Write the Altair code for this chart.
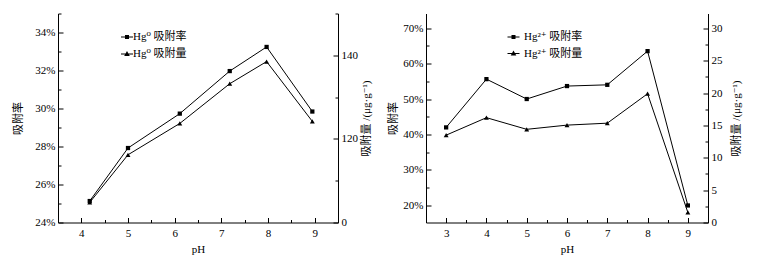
import altair as alt
import pandas as pd

SERIF = "Liberation Serif, DejaVu Serif, Noto Sans CJK SC"

# ---- Left panel (Hg0) ----
ph_hg0 = [4.18, 5.0, 6.11, 7.18, 7.97, 8.95]
rate_hg0 = [25.13, 27.92, 29.73, 31.97, 33.24, 29.84]
qty_hg0 = [104.8, 116.2, 123.7, 133.2, 138.5, 124.2]
series_hg0 = ["Hg⁰ 吸附率", "Hg⁰ 吸附量"]
x_ticks_hg0 = [4, 4.5, 5, 5.5, 6, 6.5, 7, 7.5, 8, 8.5, 9]
rate_ticks_hg0 = [24, 25, 26, 27, 28, 29, 30, 31, 32, 33, 34, 35]
qty_ticks_hg0 = [100, 110, 120, 130, 140, 150]

# ---- Right panel (Hg2+) ----
ph_hg2 = [3, 4, 5, 6, 7, 8, 9]
rate_hg2 = [42.0, 55.6, 50.0, 53.65, 54.0, 63.5, 20.0]
qty_hg2 = [13.5, 16.2, 14.4, 15.05, 15.35, 19.9, 1.55]
series_hg2 = ["Hg²⁺ 吸附率", "Hg²⁺ 吸附量"]
x_ticks_hg2 = [3, 3.5, 4, 4.5, 5, 5.5, 6, 6.5, 7, 7.5, 8, 8.5, 9]
rate_ticks_hg2 = [20, 25, 30, 35, 40, 45, 50, 55, 60, 65, 70]
qty_ticks_hg2 = [0, 2.5, 5, 7.5, 10, 12.5, 15, 17.5, 20, 22.5, 25, 27.5, 30]

# legend symbols: a thin bar (the line) through the marker, fill only
SQ = "M-3,-0.25L3,-0.25L3,0.25L-3,0.25Z M-1,-1L1,-1L1,1L-1,1Z"
TRI = "M-3,-0.25L3,-0.25L3,0.25L-3,0.25Z M0,-1.5L1.4,1L-1.4,1Z"

# inward ticks: major 5 px, minor 3 px
X_TICK = "(datum.value % 1 === 0) ? -5 : -3"


def panel(ph, rate, qty, names, xdom, xvals, y1dom, y1vals, y1lab, y1tick,
          y2dom, y2vals, y2lab, y2tick, w, h, tp1, tp2, legx, legy, loff, rowpad):
    df = pd.DataFrame({"pH": ph, "rate": rate, "qty": qty})
    leg_df = pd.DataFrame({"pH": ph + ph,
                           "series": [names[0]] * len(ph) + [names[1]] * len(ph)})
    tick_style = dict(ticks=True, tickColor="black", tickWidth=1,
                      labelOverlap=False, labelFlush=False)
    xenc = alt.X(
        "pH:Q",
        scale=alt.Scale(domain=xdom, nice=False, zero=False),
        axis=alt.Axis(values=xvals,
                      labelExpr="datum.value % 1 === 0 ? format(datum.value, 'd') : ''",
                      tickSize={"expr": X_TICK},
                      title="pH", titlePadding=3, labelPadding=9.5, **tick_style),
    )
    y1 = alt.Y(
        "rate:Q",
        scale=alt.Scale(domain=y1dom, nice=False, zero=False),
        axis=alt.Axis(orient="left", values=y1vals, labelExpr=y1lab,
                      tickSize={"expr": y1tick},
                      title="吸附率", titlePadding=tp1, labelPadding=8, **tick_style),
    )
    y2 = alt.Y(
        "qty:Q",
        scale=alt.Scale(domain=y2dom, nice=False, zero=False),
        axis=alt.Axis(orient="right", values=y2vals, labelExpr=y2lab,
                      tickSize={"expr": y2tick},
                      title="吸附量 /(μg·g⁻¹)",
                      titleAngle=270, titleBaseline="top", titlePadding=tp2,
                      labelPadding=8, **tick_style),
    )
    base = alt.Chart(df)
    la = base.mark_line(color="black", strokeWidth=1).encode(x=xenc, y=y1)
    pa = base.mark_point(shape="square", filled=True, color="black",
                         size=18, opacity=1).encode(x=xenc, y=y1)
    lb = base.mark_line(color="black", strokeWidth=1).encode(x=xenc, y=y2)
    pb = base.mark_point(shape="triangle-up", filled=True, color="black",
                         size=24, opacity=1).encode(x=xenc, y=y2)
    leg = alt.Chart(leg_df).mark_point(
        filled=True, color="black", opacity=0, size=16
    ).encode(
        x=xenc,
        shape=alt.Shape(
            "series:N",
            scale=alt.Scale(domain=names, range=[SQ, TRI]),
            legend=alt.Legend(
                orient="none", legendX=legx, legendY=legy, title=None,
                padding=0, symbolSize=16, symbolOpacity=1,
                symbolFillColor="black",
                labelOffset=loff, rowPadding=rowpad,
                labelFont=SERIF, labelFontSize=11, labelColor="black",
            ),
        ),
    )
    return (
        alt.layer(alt.layer(la, pa), alt.layer(lb, pb), leg)
        .resolve_scale(y="independent")
        .properties(width=w, height=h)
    )


left = panel(
    ph_hg0, rate_hg0, qty_hg0, series_hg0,
    [3.5, 9.5], x_ticks_hg0,
    [24, 35], rate_ticks_hg0,
    "datum.value % 2 === 0 ? format(datum.value, 'd') + '%' : ''",
    "(datum.value % 2 === 0) ? -5 : -3",
    [100, 150], qty_ticks_hg0,
    "datum.value === 100 ? '0' : (datum.value % 20 === 0 ? format(datum.value, 'd') : '')",
    "(datum.value === 100 || datum.value % 20 === 0) ? -5 : -3",
    280, 209, 11, 3, 63.5, 18, 0.5, 5,
)

right = panel(
    ph_hg2, rate_hg2, qty_hg2, series_hg2,
    [2.5, 9.5], x_ticks_hg2,
    [15.2, 74.1], rate_ticks_hg2,
    "datum.value % 10 === 0 ? format(datum.value, 'd') + '%' : ''",
    "(datum.value % 10 === 0) ? -5 : -3",
    [0, 32.3], qty_ticks_hg2,
    "datum.value % 5 === 0 ? format(datum.value, 'd') : ''",
    "(datum.value % 5 === 0) ? -5 : -3",
    282, 209, 4, 8, 82, 18, 5, 4.5,
)

chart = (
    alt.hconcat(left, right, spacing=88, bounds="flush")
    .resolve_scale(shape="independent")
    .resolve_legend(shape="independent")
    .properties(padding={"left": 12, "top": 7.5, "right": 5, "bottom": 5})
    .configure_view(strokeWidth=0)
    .configure_axis(
        domainColor="black", domainWidth=1,
        labelColor="black", titleColor="black",
        labelFont=SERIF, labelFontSize=11,
        titleFont=SERIF, titleFontSize=11, titleFontWeight="normal",
        grid=False,
    )
)

chart.save("out.html", embed_options={"renderer": "svg", "actions": False})
